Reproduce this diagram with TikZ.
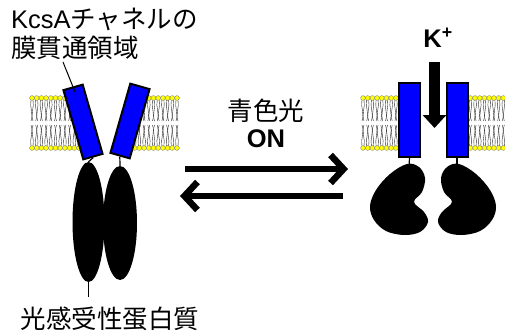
\documentclass[tikz,border=0pt]{standalone}
\usepackage{fontspec}
\setmainfont{Liberation Sans}
\newfontfamily\jp{Noto Sans CJK JP}
\usepackage{tikz}
\usetikzlibrary{shapes.geometric, arrows.meta, positioning}
\definecolor{chanblue}{RGB}{0, 0, 255}
\definecolor{headyellow}{RGB}{255, 255, 0}
\tikzset{
  >=Stealth,
  chanbox/.style={draw=black, line width=2pt, fill=chanblue, minimum width=20pt, minimum height=72pt, inner sep=0pt},
  lobe/.style={ellipse, fill=black, inner sep=0pt},
  linker/.style={line width=1.2pt, black},
  lipidtail/.style={line width=0.4pt, black!85},
  lipidhead/.style={fill=headyellow, draw=black!55, line width=0.3pt},
  switcharrow/.style={-{Straight Barb[length=13pt, width=28pt]}, line width=6.5pt},
  ionarrow/.style={-{Triangle[length=13pt, width=23pt]}, line width=11pt},
  lbl/.style={font=\fontsize{25.5}{29}\selectfont, inner sep=0pt}
}

\begin{document}
\begin{tikzpicture}[x=1pt, y=-1pt]
    \useasboundingbox (0,0) rectangle (505,334);

    % lipid bilayers (four pieces, channels sit on top)
    \foreach \a/\n in {32/11, 130/10, 363/9, 461/9}{
      \foreach \i in {0,...,\n}{
        \pgfmathsetmacro\x{\a+4.7*\i}
        \draw[lipidtail] (\x-1,100) .. controls (\x-2.6,107) and (\x+1.6,113) .. (\x-1,121);
        \draw[lipidtail] (\x+1,100) .. controls (\x+2.6,107) and (\x-1.6,113) .. (\x+1,121);
        \draw[lipidtail] (\x-1,146) .. controls (\x-2.6,139) and (\x+1.6,133) .. (\x-1,125);
        \draw[lipidtail] (\x+1,146) .. controls (\x+2.6,139) and (\x-1.6,133) .. (\x+1,125);
        \filldraw[lipidhead] (\x,98) circle (2.4);
        \filldraw[lipidhead] (\x,148) circle (2.4);
      }
    }

    % closed state: tilted helices on two long domains
    \node (lobeL) [lobe, minimum width=32pt, minimum height=120pt] at (88.5,222) {};
    \node (lobeR) [lobe, minimum width=34pt, minimum height=114pt] at (120,223) {};
    \node (chanL) [chanbox, rotate=16] at (83,122) {};
    \node (chanR) [chanbox, rotate=-16] at (130,121) {};
    \coordinate (stem) at (88.5,297);
    \coordinate (tmFoot) at (63,62);
    \draw[linker] (chanL.south) -- (lobeL.north);
    \draw[linker] (chanR.south) -- (lobeR.north);
    \draw[linker] (lobeL.south) -- (stem);
    \draw[linker, line width=1pt, shorten >=-6pt] (tmFoot) -- (chanL.north);

    \node (lblTM) [lbl, align=left, anchor=north west] at (11,8) {KcsA{\jp チャネルの}\\{\jp 膜貫通領域}};
    \node (lblPhoto) [lbl] at (110,319) {\jp 光感受性蛋白質};

    % open state: upright helices, bent domains
    \node (poreL) [chanbox, minimum width=21pt, minimum height=74pt] at (409.5,120) {};
    \node (poreR) [chanbox, minimum width=21pt, minimum height=74pt] at (457,120) {};
    \coordinate (budL) at (409,166);
    \coordinate (budR) at (457,166);
    \foreach \s in {1,-1}{
      \fill plot[smooth cycle, tension=0.6] coordinates {({433+\s*(407-433)},164) ({433+\s*(419-433)},167)
        ({433+\s*(425-433)},178) ({433+\s*(422-433)},192) ({433+\s*(414-433)},202)
        ({433+\s*(424-433)},212) ({433+\s*(428-433)},222) ({433+\s*(420-433)},232)
        ({433+\s*(404-433)},235) ({433+\s*(386-433)},231) ({433+\s*(374-433)},220)
        ({433+\s*(370-433)},206) ({433+\s*(376-433)},190) ({433+\s*(390-433)},174)};
    }
    \draw[linker] (poreL.south) -- (budL);
    \draw[linker] (poreR.south) -- (budR);

    \node (kIon) [lbl] at (438,38) {\bfseries K\textsuperscript{+}};
    \coordinate (kTop) at (434.5,62);
    \coordinate (kTip) at (434.5,128);
    \draw[ionarrow] (kTop) -- (kTip);

    % switching arrows
    \node (lblLight) [lbl] at (266,111) {\jp 青色光};
    \node (lblOn) [lbl, below=7pt of lblLight] {\bfseries ON};
    \coordinate (fwdL) at (185,169);
    \coordinate (fwdR) at (348,169);
    \coordinate (revR) at (343,196);
    \coordinate (revL) at (180,196);
    \draw[switcharrow] (fwdL) -- (fwdR);
    \draw[switcharrow] (revR) -- (revL);
\end{tikzpicture}
\end{document}
